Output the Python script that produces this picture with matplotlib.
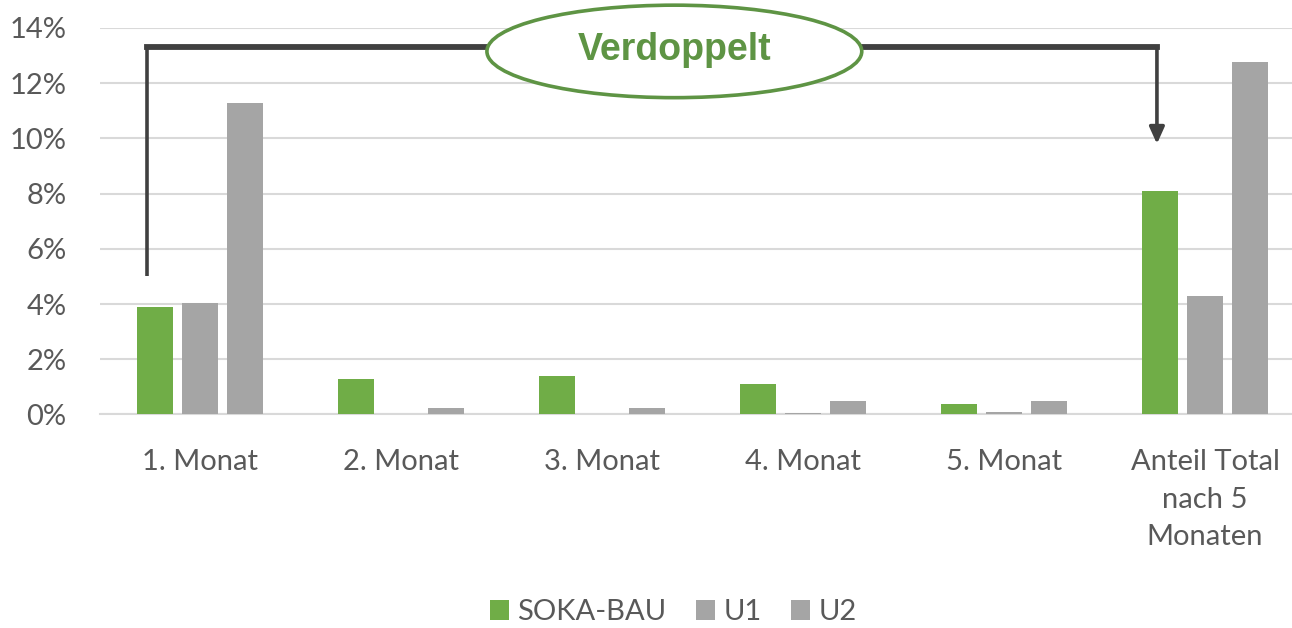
import matplotlib.pyplot as plt
from matplotlib.patches import Ellipse
from matplotlib.ticker import FuncFormatter
import numpy as np

# Anteil pro Monat (in %)
categories = ['1. Monat', '2. Monat', '3. Monat', '4. Monat', '5. Monat',
              'Anteil Total\nnach 5\nMonaten']
soka_bau = [3.89, 1.28, 1.39, 1.10, 0.38, 8.08]
u1 = [4.03, 0.0, 0.0, 0.05, 0.09, 4.29]
u2 = [11.27, 0.24, 0.24, 0.49, 0.49, 12.77]
series_names = ['SOKA-BAU', 'U1', 'U2']

plt.rcParams['font.family'] = ['Lato', 'DejaVu Sans']

green = '#70AD47'
gray = '#A5A5A5'
text_gray = '#595959'

fig = plt.figure(figsize=(12.92, 6.28), dpi=100)
ax = fig.add_axes([100 / 1292, 0.34, 1192 / 1292, 0.6155])

x = np.arange(len(categories))
w = 0.175
off = 0.224
ax.bar(x - off, soka_bau, w, color=green, label=series_names[0], zorder=3)
ax.bar(x, u1, w, color=gray, label=series_names[1], zorder=3)
ax.bar(x + off, u2, w, color=gray, label=series_names[2], zorder=3)

ax.set_xlim(-0.4975, 5.433)
ax.set_ylim(0, 14)
ax.set_yticks(np.arange(0, 15, 2))
ax.yaxis.set_major_formatter(FuncFormatter(lambda v, p: '{:.0f}%'.format(v)))
ax.set_xticks(x)
ax.set_xticklabels(categories, linespacing=1.55)
ax.tick_params(axis='both', length=0, labelsize=21, labelcolor=text_gray)
ax.tick_params(axis='y', pad=24)
ax.tick_params(axis='x', pad=25)
for lbl in ax.get_yticklabels():
    lbl.set_horizontalalignment('right')

ax.grid(axis='y', color='#D9D9D9', linewidth=1.5, zorder=0)
for s in ['top', 'right', 'left']:
    ax.spines[s].set_visible(False)
ax.spines['bottom'].set_color('#D9D9D9')
ax.spines['bottom'].set_linewidth(1.5)

# Klammer "Verdoppelt"
line_col = '#404040'
x_left = x[0] - off - 0.04
x_right = x[5] - off - 0.015
y_top = 13.3
ax.plot([x_left, x_left], [5.0, y_top], color=line_col, lw=2.6, zorder=4,
        clip_on=False, solid_capstyle='butt')
ax.plot([x_left, x_right], [y_top, y_top], color=line_col, lw=4.2, zorder=4,
        clip_on=False, solid_capstyle='projecting')
ax.annotate('', xy=(x_right, 9.8), xytext=(x_right, y_top),
            arrowprops=dict(arrowstyle='-|>,head_length=1.0,head_width=0.45',
                            color=line_col, lw=2.6, shrinkA=0, shrinkB=0),
            zorder=4, annotation_clip=False)

ell = Ellipse((2.36, 13.15), 1.865, 3.35, facecolor='white', edgecolor='#5E9444',
              linewidth=2.6, zorder=5, clip_on=False)
ax.add_patch(ell)
ax.text(2.36, 13.2, 'Verdoppelt', ha='center', va='center', fontsize=27,
        fontweight='bold', color='#5E9444', family=['Liberation Sans', 'DejaVu Sans'],
        zorder=6)

leg = fig.legend(loc='center', bbox_to_anchor=(0.521, 0.025), ncol=3, frameon=False,
                 fontsize=21, handlelength=0.65, handleheight=0.65, handletextpad=0.3,
                 columnspacing=1.0)
for t in leg.get_texts():
    t.set_color(text_gray)

fig.savefig('out.png', dpi=100)
